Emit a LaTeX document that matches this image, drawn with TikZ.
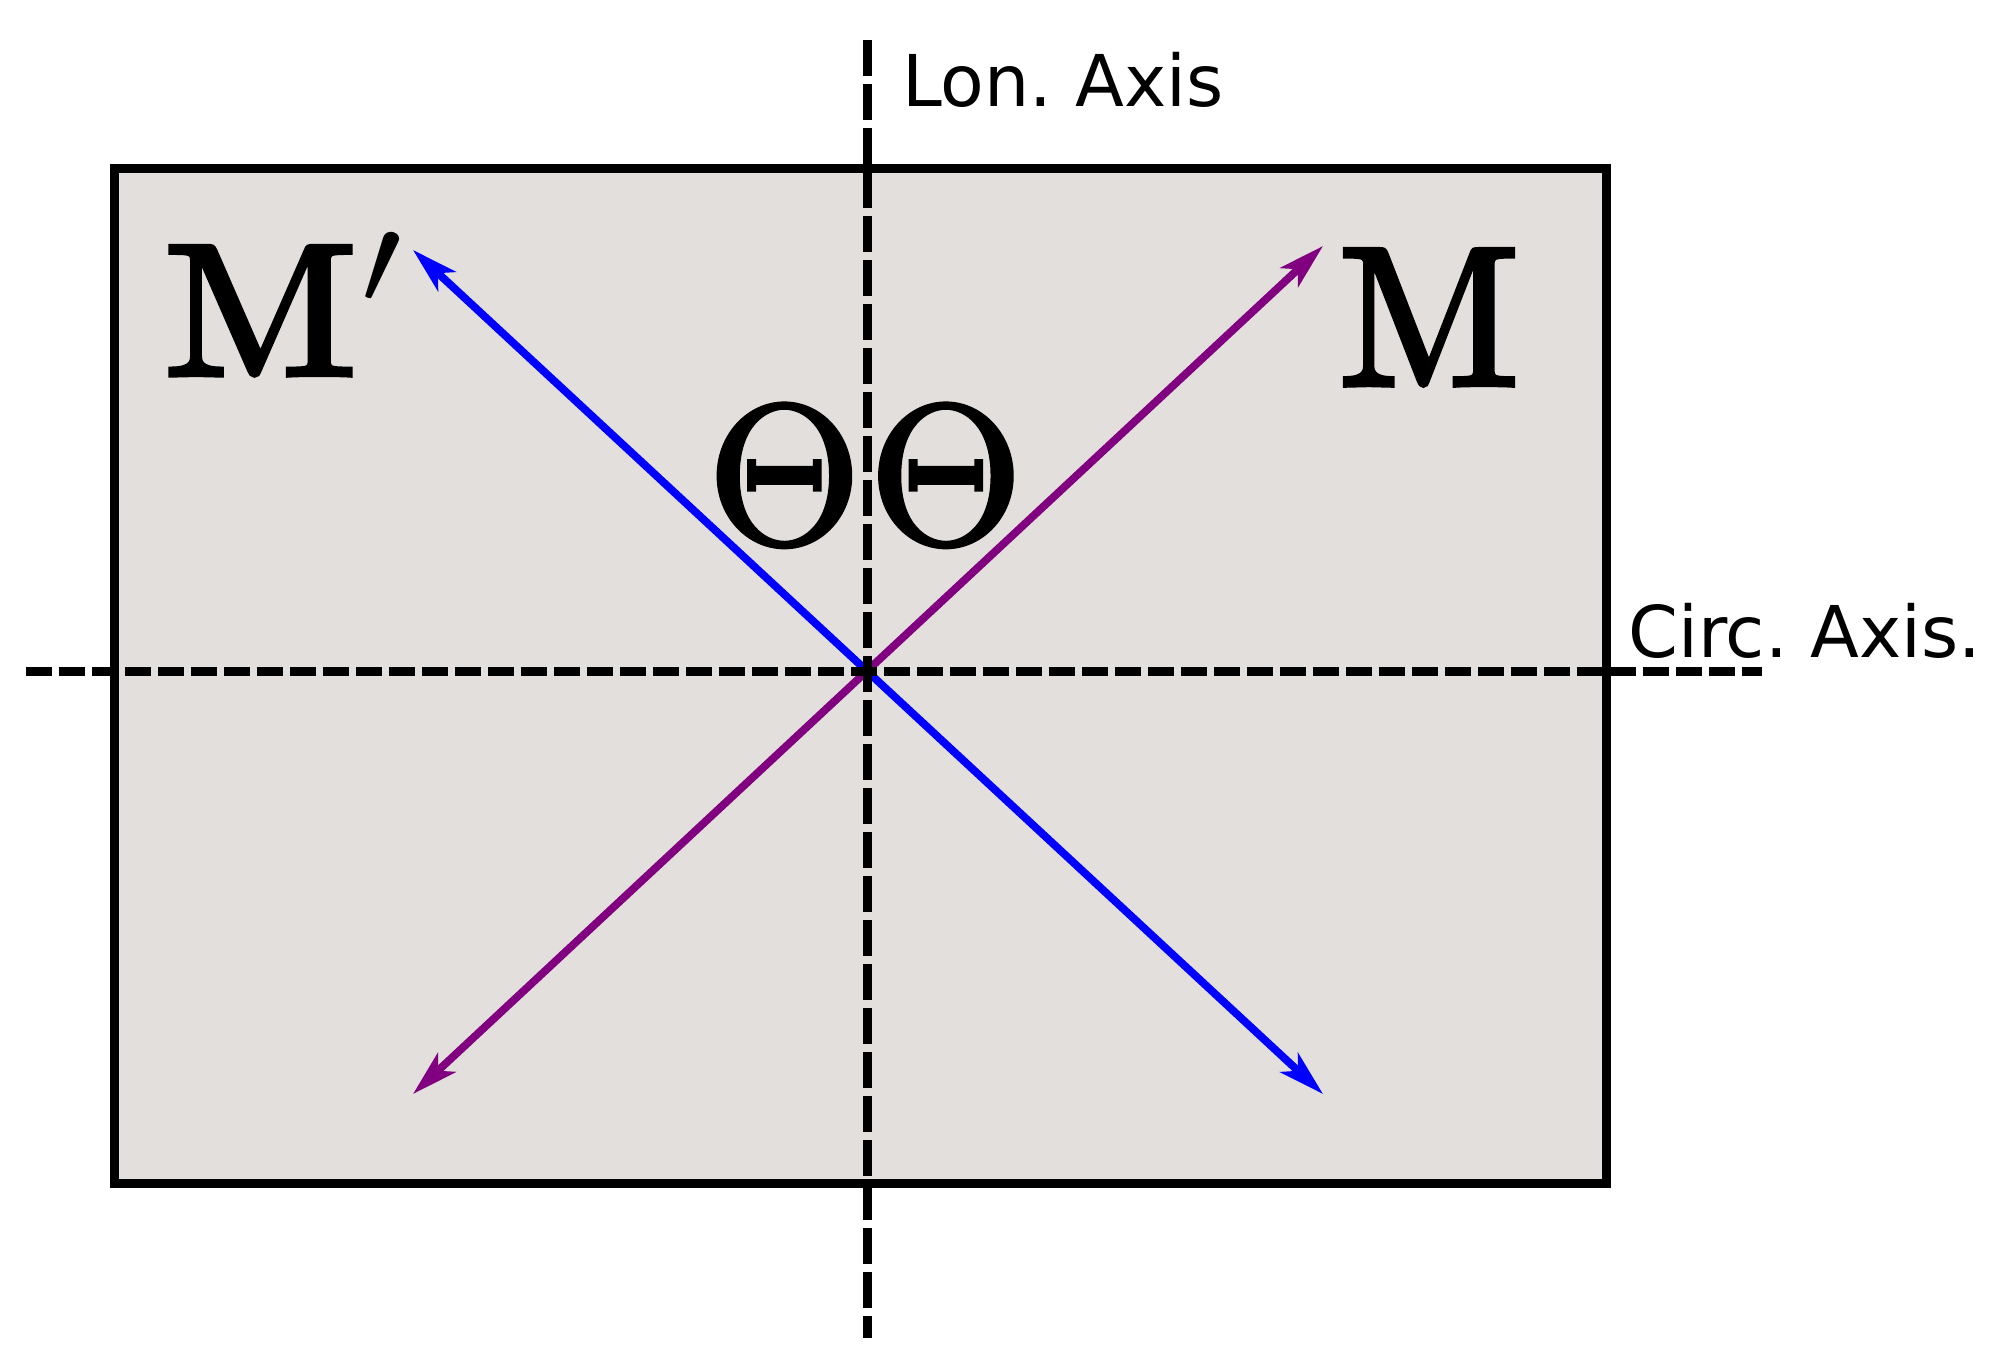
\documentclass[tikz,border=0pt]{standalone}
\usepackage{fontspec}
\newfontfamily\dejavu{DejaVu Sans}
\usetikzlibrary{arrows.meta}
\font\cmrbig="[lmroman10-regular.otf]:embolden=2.8" at 99pt
\font\cmrtheta="[lmroman10-regular.otf]:embolden=2" at 99pt
\font\cmsyprime=cmsy10 at 68pt
\definecolor{boxfill}{RGB}{227,223,220}
\definecolor{arrpurple}{RGB}{128,0,128}
\begin{document}
\begin{tikzpicture}[x=0.5pt,y=-0.5pt,
  axis/.style={line width=4.5pt},
  vec/.style={line width=3.9pt,
    {Stealth[length=23pt,width=13pt,inset=6pt]}-{Stealth[length=23pt,width=13pt,inset=6pt]}},
  lbl/.style={inner sep=0pt, anchor=base west, font=\dejavu\fontsize{35.7pt}{40pt}\selectfont\frenchspacing},
  sym/.style={inner sep=0pt, anchor=base}]
\useasboundingbox (0,0) rectangle (1994,1363);
% panel
\draw[line width=4.5pt, fill=boxfill] (114.5,169) rectangle (1606.5,1183);
% vectors
\coordinate (bUL) at (413,250);
\coordinate (bLR) at (1323,1094);
\coordinate (pLL) at (413,1094);
\coordinate (pUR) at (1323,246);
\draw[vec, blue] (bUL) -- (bLR);
\draw[vec, arrpurple] (pLL) -- (pUR);
% axes
\coordinate (hL) at (26,672);
\coordinate (hR) at (1762,672);
\coordinate (vT) at (867,40);
\coordinate (vB) at (867,1338);
\draw[axis, dash pattern=on 13pt off 3.5pt] (hL) -- (hR);
\draw[axis, dash pattern=on 18pt off 4pt] (vT) -- (vB);
% labels
\node[lbl] (lon) at (902,107) {Lon. Axis};
\node[lbl] (circ) at (1628,658) {Circ. Axis.};
\node[sym] (M) at (1429,385) {\cmrbig M};
\node[sym, anchor=base west, xscale=1.07, yscale=0.95, transform shape] (Mp) at (163,375) {\cmrbig M\kern2pt\raise37pt\hbox{\cmsyprime\char48}};
\node[sym] (thL) at (784.5,543) {\cmrtheta Θ};
\node[sym] (thR) at (946,543) {\cmrtheta Θ};
\end{tikzpicture}
\end{document}
